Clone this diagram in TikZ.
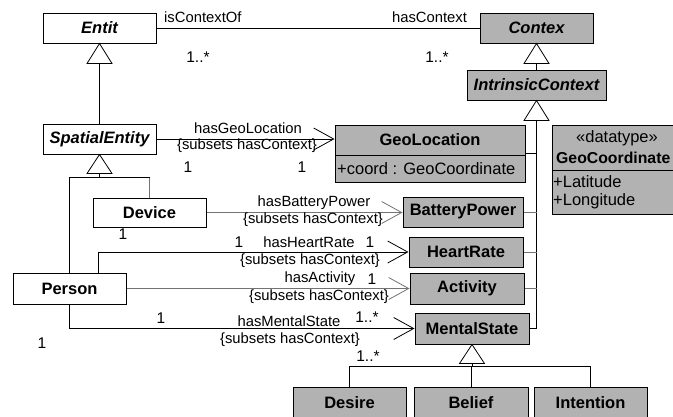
\documentclass[tikz,border=0pt]{standalone}
\usepackage{fontspec}
\setmainfont{Liberation Sans}
\usetikzlibrary{arrows.meta}
\definecolor{clsgray}{RGB}{178,178,178}
\definecolor{lngray}{RGB}{115,115,115}
\begin{document}
\begin{tikzpicture}[x=1pt,y=-1pt,
  cls/.style={draw=black, line width=1pt, inner sep=0pt, font=\fontsize{16.5}{18}\selectfont\bfseries},
  abscls/.style={cls, font=\fontsize{16.5}{18}\selectfont\bfseries\itshape},
  ctx/.style={fill=clsgray},
  wcls/.style={fill=white},
  lbl/.style={inner sep=0pt, font=\fontsize{14.8}{16}\selectfont},
  mult/.style={inner sep=0pt, font=\fontsize{15.5}{17}\selectfont},
  txt/.style={inner sep=0pt, font=\fontsize{16.5}{18}\selectfont},
  btxt/.style={inner sep=0pt, font=\fontsize{16.5}{18}\selectfont\bfseries},
  assoc/.style={line width=0.8pt, -{Straight Barb[length=20pt,width=22pt]}},
  conn/.style={line width=0.8pt},
  tri/.style={draw, line width=0.8pt, fill=white}
]
\useasboundingbox (0,0) rectangle (673,416);
\clip (0,0) rectangle (673,416);

% ---------- classes ----------
\node[abscls, wcls, minimum width=113pt, minimum height=30pt] (entit) at (99.5,28) {Entit};
\node[abscls, ctx, minimum width=113pt, minimum height=30pt] (contex) at (536.5,28) {Contex};
\node[abscls, ctx, minimum width=139pt, minimum height=30pt] (intr) at (536.5,85) {IntrinsicContext};
\node[abscls, wcls, minimum width=113pt, minimum height=30pt] (spatial) at (99.5,139) {SpatialEntity};

% GeoLocation (two compartments)
\node[cls, ctx, minimum width=190pt, minimum height=57pt] (geo) at (430,153.5) {};
\draw[line width=1pt] (335,155) -- (525,155);
\node[btxt] (geoname) at (430,140) {GeoLocation};
\node[txt, anchor=west] (geoattr) at (337,168.5) {+coord : GeoCoordinate};

% GeoCoordinate datatype
\node[cls, ctx, minimum width=130pt, minimum height=89pt] (geocoord) at (617,169.5) {};
\draw[line width=1pt] (552,170) -- (682,170);
\node[txt] (dtst) at (617,138) {«datatype»};
\node[btxt, font=\fontsize{15.8}{17}\selectfont\bfseries, anchor=west] (dtname) at (556,158) {GeoCoordinate};
\node[txt, anchor=west] (lat) at (553,181.5) {+Latitude};
\node[txt, anchor=west] (lon) at (553,201.5) {+Longitude};

\node[cls, wcls, minimum width=113pt, minimum height=29pt] (device) at (149.5,212.5) {Device};
\node[cls, wcls, minimum width=113pt, minimum height=31pt] (person) at (69.5,288.5) {Person};

\node[cls, ctx, minimum width=120pt, minimum height=30pt] (battery) at (463,212) {BatteryPower};
\node[cls, ctx, minimum width=114pt, minimum height=30pt] (heart) at (466,252) {HeartRate};
\node[cls, ctx, minimum width=114pt, minimum height=31pt] (activity) at (467,288.5) {Activity};
\node[cls, ctx, minimum width=114pt, minimum height=31pt] (mental) at (472,328.5) {MentalState};

\node[cls, ctx, minimum width=113pt, minimum height=31pt] (desire) at (349.5,402.5) {Desire};
\node[cls, ctx, minimum width=114pt, minimum height=31pt] (belief) at (471,402.5) {Belief};
\node[cls, ctx, minimum width=113pt, minimum height=31pt] (intention) at (590.5,402.5) {Intention};

% ---------- generalizations ----------
\draw[conn] ([yshift=-20pt]entit.south) -- (spatial.north);
\draw[tri] (entit.south) -- ++(-12.5,20) -- ++(25,0) -- cycle;

\draw[conn] ([yshift=-20pt]contex.south) -- (intr.north);
\draw[tri] (contex.south) -- ++(-12.5,20) -- ++(25,0) -- cycle;

\draw[conn] ([yshift=-20pt]intr.south) -- (intr.south |- mental.east) -- (mental.east);
\draw[conn] (geo.east) -- (geo.east -| intr.south);
\draw[conn, lngray] (battery.east) -- (battery.east -| intr.south);
\draw[conn, lngray] (heart.east) -- (heart.east -| intr.south);
\draw[conn, lngray] (activity.east) -- (activity.east -| intr.south);
\draw[tri] (intr.south) -- ++(-12.5,20) -- ++(25,0) -- cycle;

\coordinate (sj) at ([yshift=-23pt]spatial.south);
\draw[conn] ([yshift=-19pt]spatial.south) -- (sj);
\draw[conn] (person.north) -- (person.north |- sj) -- (device.north |- sj);
\draw[conn, lngray] (device.north |- sj) -- (device.north);
\draw[tri] (spatial.south) -- ++(-12.5,19) -- ++(25,0) -- cycle;

\coordinate (mj) at ([yshift=-22pt]mental.south);
\draw[conn] ([yshift=-19pt]mental.south) -- (mj);
\draw[conn] (desire.north) -- (desire.north |- mj) -- (intention.north |- mj) -- (intention.north);
\draw[conn] (belief.north |- mj) -- (belief.north);
\draw[tri] (mental.south) -- ++(-12.5,19) -- ++(25,0) -- cycle;

% ---------- associations ----------
\draw[conn] (entit.east) -- (contex.west);
\node[lbl, anchor=west] (lisctx) at (164,17) {isContextOf};
\node[lbl] (lhasctx) at (429.5,17) {hasContext};
\node[mult] (m1) at (198,57) {1..*};
\node[mult] (m2) at (437,57) {1..*};

\draw[assoc] (spatial.east) -- (geo.west |- spatial.east);
\node[lbl] (lgeo) at (248,128) {hasGeoLocation};
\node[lbl] (lgeos) at (247,146) {\{subsets hasContext\}};
\node[mult] (m3) at (188,167) {1};
\node[mult] (m4) at (302,167) {1};

\draw[assoc, lngray] (device.east) -- (battery.west |- device.east);
\node[lbl] (lbat) at (314,203) {hasBatteryPower};
\node[lbl] (lbats) at (313,220) {\{subsets hasContext\}};
\node[mult] (m5) at (123,234) {1};

\draw[assoc] ([xshift=28.5pt]person.north) |- (heart.west);
\node[mult] (m6) at (239,242) {1};
\node[lbl] (lhr) at (309,242) {hasHeartRate};
\node[mult] (m7) at (370,242) {1};
\node[lbl] (lhrs) at (310,261) {\{subsets hasContext\}};

\draw[assoc, lngray] (person.east) -- (activity.west);
\node[lbl] (lact) at (320,279) {hasActivity};
\node[mult] (m8) at (372,279) {1};
\node[lbl] (lacts) at (319,297) {\{subsets hasContext\}};

\draw[assoc] (person.south) |- (mental.west);
\node[mult] (m9) at (161,318) {1};
\node[lbl] (lms) at (289,321) {hasMentalState};
\node[mult] (m10) at (367,317) {1..*};
\node[lbl] (lmss) at (290,340) {\{subsets hasContext\}};
\node[mult] (m11) at (42,343) {1};
\node[mult] (m12) at (368,356) {1..*};
\end{tikzpicture}
\end{document}
